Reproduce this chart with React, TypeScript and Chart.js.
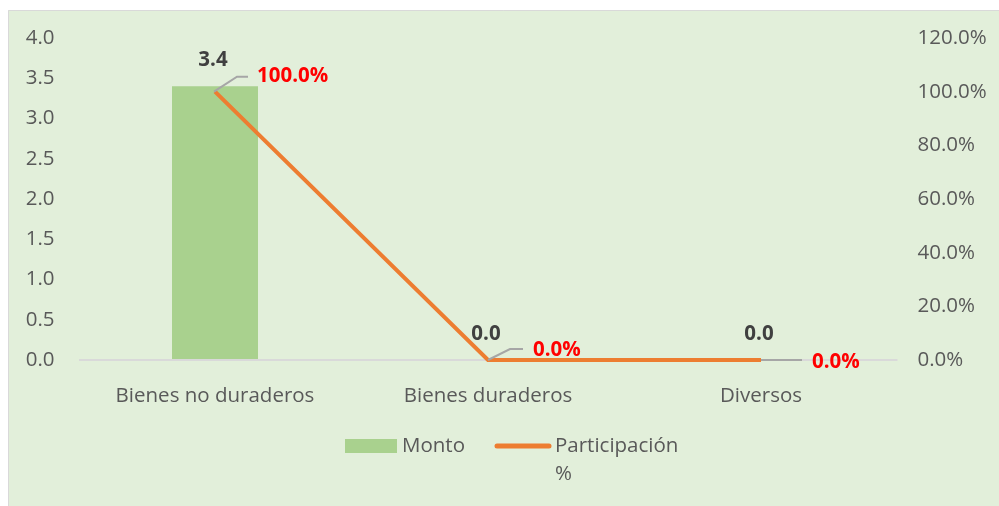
import React, { useEffect, useRef } from "react";
import { Chart, registerables } from "chart.js";

Chart.register(...registerables);

const categories = ["Bienes no duraderos", "Bienes duraderos", "Diversos"];
const montoValues = [3.4, 0.0, 0.0];
const participacionValues = [100.0, 0.0, 0.0];
const montoLabels = ["3.4", "0.0", "0.0"];
const participacionLabels = ["100.0%", "0.0%", "0.0%"];
const legendLabels = ["Monto", "Participación", "%"];

const FONT = "'Open Sans', 'Noto Sans', sans-serif";
const TEXT = "#595959";
const BAR = "#A9D18E";
const LINE = "#ED7D31";
const FS = 20.5;

const decorPlugin = {
  id: "decor",
  beforeDraw(chart: any) {
    const { ctx, width, height } = chart;
    ctx.save();
    ctx.fillStyle = "#ffffff";
    ctx.fillRect(0, 0, width, height);
    ctx.fillStyle = "#E2EFDA";
    ctx.fillRect(8, 10, width - 8, height - 10);
    ctx.strokeStyle = "#D9D9D9";
    ctx.lineWidth = 1;
    ctx.beginPath();
    ctx.moveTo(8.5, height);
    ctx.lineTo(8.5, 10.5);
    ctx.lineTo(width, 10.5);
    ctx.stroke();
    ctx.restore();
  },
  afterDatasetsDraw(chart: any) {
    const { ctx } = chart;
    const barMeta = chart.getDatasetMeta(0);
    const lineMeta = chart.getDatasetMeta(1);
    ctx.save();
    ctx.font = `bold ${FS}px ${FONT}`;
    ctx.fillStyle = "#404040";
    ctx.textAlign = "center";
    ctx.textBaseline = "middle";
    barMeta.data.forEach((el: any, i: number) => {
      ctx.fillText(montoLabels[i], el.x - 2, el.y - 26);
    });
    ctx.strokeStyle = "#A6A6A6";
    ctx.lineWidth = 2;
    lineMeta.data.forEach((el: any, i: number) => {
      const x = el.x;
      const y = el.y;
      ctx.beginPath();
      let tx: number, ty: number;
      if (i === 0) {
        ctx.moveTo(x - 1, y);
        ctx.lineTo(x + 22, y - 15);
        ctx.lineTo(x + 33, y - 15);
        tx = x + 42;
        ty = y - 16;
      } else if (i === 1) {
        ctx.moveTo(x, y);
        ctx.lineTo(x + 22, y - 11);
        ctx.lineTo(x + 35, y - 11);
        tx = x + 45;
        ty = y - 10;
      } else {
        ctx.moveTo(x, y);
        ctx.lineTo(x + 41, y);
        tx = x + 51;
        ty = y + 2;
      }
      ctx.stroke();
      ctx.font = `bold ${FS}px ${FONT}`;
      ctx.fillStyle = "#FF0000";
      ctx.textAlign = "left";
      ctx.fillText(participacionLabels[i], tx, ty);
    });
    ctx.restore();
  },
  afterDraw(chart: any) {
    const { ctx } = chart;
    ctx.save();
    ctx.fillStyle = BAR;
    ctx.fillRect(345, 439, 52, 14);
    ctx.font = `${FS}px ${FONT}`;
    ctx.fillStyle = TEXT;
    ctx.textAlign = "left";
    ctx.textBaseline = "middle";
    ctx.fillText(legendLabels[0], 402, 446);
    ctx.strokeStyle = LINE;
    ctx.lineWidth = 5;
    ctx.lineCap = "round";
    ctx.beginPath();
    ctx.moveTo(497, 446);
    ctx.lineTo(549, 446);
    ctx.stroke();
    ctx.fillText(legendLabels[1], 555, 446);
    ctx.fillText(legendLabels[2], 555, 474);
    ctx.restore();
  },
};

export default function App() {
  const ref = useRef<HTMLCanvasElement>(null);
  useEffect(() => {
    if (!ref.current) return;
    const chart = new Chart(ref.current, {
      type: "bar",
      data: {
        labels: categories,
        datasets: [
          {
            type: "bar",
            label: "Monto",
            data: montoValues,
            backgroundColor: BAR,
            yAxisID: "y",
            categoryPercentage: 1,
            barPercentage: 0.315,
            order: 2,
          },
          {
            type: "line",
            label: "Participación %",
            data: participacionValues,
            borderColor: LINE,
            backgroundColor: LINE,
            borderWidth: 4,
            pointRadius: 0,
            yAxisID: "y1",
            clip: false,
            order: 1,
          } as any,
        ],
      },
      options: {
        animation: false,
        responsive: false,
        layout: { padding: { top: 38, left: 0, right: 0, bottom: 0 } },
        plugins: { legend: { display: false }, tooltip: { enabled: false } },
        scales: {
          x: {
            grid: { display: false },
            border: { display: false },
            ticks: { color: TEXT, font: { family: FONT, size: FS }, padding: 16 },
            afterFit: (s: any) => {
              s.height = 146;
            },
          },
          y: {
            position: "left",
            min: 0,
            max: 4,
            ticks: {
              stepSize: 0.5,
              color: TEXT,
              font: { family: FONT, size: FS },
              padding: 24,
              callback: (v: any) => Number(v).toFixed(1),
            },
            grid: {
              drawTicks: false,
              color: (c: any) => (c.tick && c.tick.value === 0 ? "#D9D9D9" : "rgba(0,0,0,0)"),
              lineWidth: 2,
            },
            border: { display: false },
            afterFit: (s: any) => {
              s.width = 78.5;
            },
          },
          y1: {
            position: "right",
            min: 0,
            max: 120,
            ticks: {
              stepSize: 20,
              color: TEXT,
              font: { family: FONT, size: FS },
              padding: 20,
              callback: (v: any) => Number(v).toFixed(1) + "%",
            },
            grid: { display: false, drawTicks: false },
            border: { display: false },
            afterFit: (s: any) => {
              s.width = 101.5;
            },
          },
        },
      },
      plugins: [decorPlugin],
    });
    return () => chart.destroy();
  }, []);
  return (
    <div style={{ position: "absolute", left: 0, top: 0, width: 999, height: 506 }}>
      <canvas ref={ref} width={999} height={506} style={{ display: "block" }} />
    </div>
  );
}
